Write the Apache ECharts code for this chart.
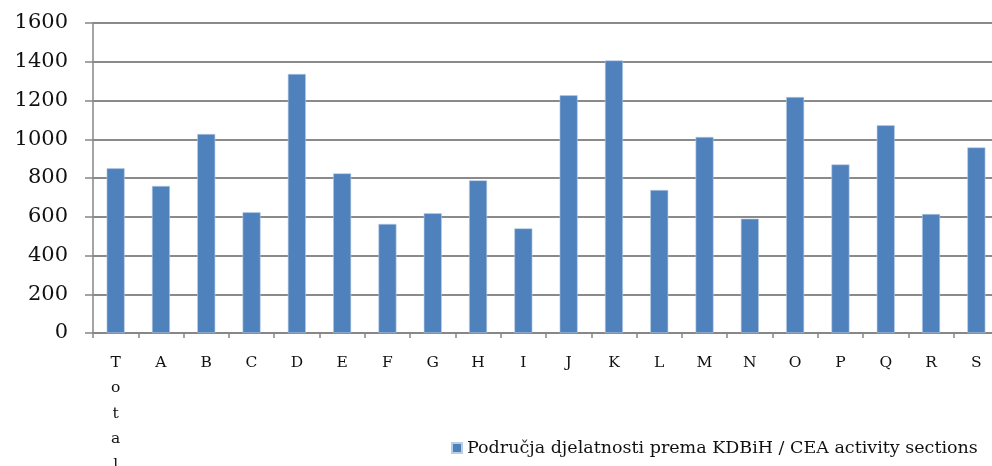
<!DOCTYPE html>
<html><head><meta charset="utf-8">
<script src="https://cdn.jsdelivr.net/npm/echarts@6/dist/echarts.min.js"></script>
<style>html,body{margin:0;padding:0;background:#fff}#c{width:992px;height:466px}</style>
</head><body><div id="c"></div>
<script>
const categories = ["Total","A","B","C","D","E","F","G","H","I","J","K","L","M","N","O","P","Q","R","S"];
const values = [850,759,1027,623,1337,824,563,618,788,540,1227,1407,738,1012,590,1218,870,1072,614,958];
const seriesName = "Područja djelatnosti prema KDBiH / CEA activity sections";
const yTicks = [0,200,400,600,800,1000,1200,1400,1600];

const chart = echarts.init(document.getElementById('c'));
chart.setOption({
  animation: false,
  backgroundColor: '#fff',
  grid: { left: 93, top: 23, bottom: 133, width: 906, containLabel: false, outerBoundsMode: 'none' },
  legend: {
    data: [seriesName], left: 446, top: 434, icon: 'rect', itemWidth: 10, itemHeight: 10, itemGap: 5,
    textStyle: { fontFamily: 'DejaVu Serif', fontSize: 17.5, color: '#111' }
  },
  xAxis: {
    type: 'category', data: categories, boundaryGap: true,
    axisLine: { lineStyle: { color: '#868686', width: 1.5 } },
    axisTick: { show: true, length: 5, alignWithLabel: false, lineStyle: { color: '#868686', width: 1.5 } },
    axisLabel: {
      interval: 0, margin: 17, fontFamily: 'DejaVu Serif', fontSize: 15.5, color: '#111', lineHeight: 25.5,
      formatter: v => v.length > 1 ? v.split('').join('\n') : v
    }
  },
  yAxis: {
    type: 'value', min: yTicks[0], max: yTicks[yTicks.length-1], interval: 200,
    axisLine: { show: true, lineStyle: { color: '#868686', width: 1.5 } },
    axisTick: { show: true, length: 8, lineStyle: { color: '#868686', width: 1.5 } },
    splitLine: { lineStyle: { color: '#8a8a8a', width: 2 } },
    axisLabel: { margin: 25, fontFamily: 'DejaVu Serif', fontSize: 21, color: '#111', formatter: v => String(v) }
  },
  series: [{
    name: seriesName, type: 'bar', data: values, barWidth: 18,
    itemStyle: { color: '#4f81bd', borderColor: '#b9cde5', borderWidth: 0.6 }
  }]
});
</script></body></html>
